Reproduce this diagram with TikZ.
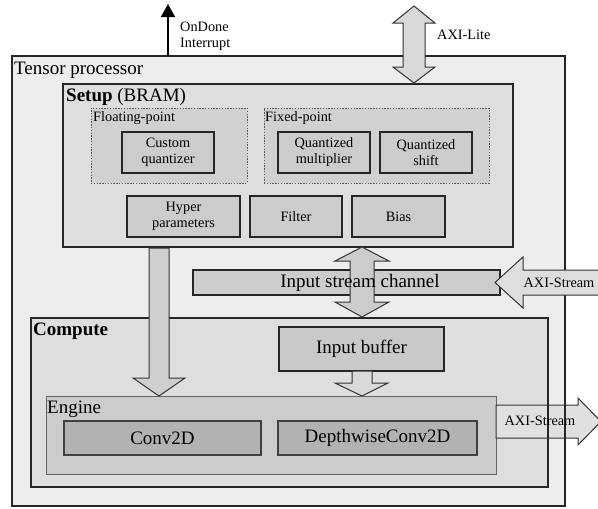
\documentclass[tikz,border=0pt]{standalone}
\usepackage{fontspec}
\setmainfont{Liberation Serif}
\usetikzlibrary{arrows.meta}
\begin{document}
\begin{tikzpicture}[x=1pt,y=-1pt,
  big/.style={font=\fontsize{19}{22}\selectfont},
  small/.style={font=\fontsize{14.3}{16}\selectfont},
  area/.style={draw=black!85,inner sep=0pt,outer sep=0pt,anchor=north west},
  unit/.style={area,draw=black!85,line width=1.4pt,fill=black!20,align=center,small},
  group/.style={area,draw=black!65,line width=0.9pt,dash pattern=on 1.4pt off 1.4pt,fill=black!18},
  blockarrow/.style={draw=black!80,line width=1pt},
  lbl/.style={inner sep=0pt,anchor=west}]
\useasboundingbox (0,0) rectangle (598,509);

% outer block
\node[area,line width=1.2pt,fill=black!7,minimum width=553pt,minimum height=450pt] (tp) at (12,56) {};
\node[lbl,big] (tpl) at (14,70) {Tensor processor};

% setup memory
\node[area,line width=2pt,fill=black!13,minimum width=450pt,minimum height=163pt] (setup) at (63,84) {};
\node[lbl,big] (setupl) at (66,97) {\textbf{Setup} (BRAM)};
\node[group,minimum width=156pt,minimum height=75pt] (float) at (91,108) {};
\node[lbl,small] (floatl) at (93,118) {Floating-point};
\node[group,minimum width=225pt,minimum height=75pt] (fixed) at (264,108) {};
\node[lbl,small] (fixedl) at (265,118) {Fixed-point};
\node[unit,minimum width=92pt,minimum height=41pt] (cq) at (122,132) {Custom\\quantizer};
\node[unit,minimum width=92pt,minimum height=41pt] (qm) at (278,132) {Quantized\\multiplier};
\node[unit,minimum width=92pt,minimum height=41pt] (qs) at (380,132) {Quantized\\shift};
\node[unit,minimum width=113pt,minimum height=41pt] (hp) at (127,196) {Hyper\\parameters};
\node[unit,minimum width=92pt,minimum height=41pt] (flt) at (250,196) {Filter};
\node[unit,minimum width=93pt,minimum height=41pt] (bias) at (352,196) {Bias};

% compute part
\node[area,line width=2pt,fill=black!13,minimum width=517pt,minimum height=169pt] (comp) at (31,318) {};
\node[lbl,big] (compl) at (33,331) {\textbf{Compute}};
\node[area,line width=1.3pt,fill=black!21,minimum width=165pt,minimum height=44pt,big] (ib) at (279,327) {};
\node[big] (ibl) at (ib.center) {Input buffer};
\node[area,draw=black!60,line width=1pt,fill=black!20,minimum width=450pt,minimum height=78pt] (eng) at (46,396) {};
\node[lbl,big] (engl) at (47,409) {Engine};
\node[area,draw=black!75,line width=1.3pt,fill=black!30,minimum width=197pt,minimum height=34pt] (c2d) at (64,421) {};
\node[big] (c2dl) at (c2d.center) {Conv2D};
\node[area,draw=black!75,line width=1.3pt,fill=black!30,minimum width=199pt,minimum height=34pt] (dw) at (278,421) {};
\node[big] (dwl) at (dw.center) {DepthwiseConv2D};

% input stream channel
\node[area,line width=1.3pt,fill=black!20,minimum width=307pt,minimum height=25pt] (band) at (193,270) {};
\draw[blockarrow,fill=black!20] (362,247) -- (389,261) -- (374,261) -- (374,302) -- (389,302)
  -- (362,317) -- (335,302) -- (350,302) -- (350,261) -- (335,261) -- cycle;
\node[big] (bandl) at (360,283) {Input stream channel};
\draw[blockarrow,fill=black!13] (495,282.5) -- (523,257) -- (523,270) -- (602,270) -- (602,295)
  -- (523,295) -- (523,308) -- cycle;
\node[small] (axisin) at (559,283) {AXI-Stream};

% setup to engine
\draw[blockarrow,fill=black!19] (149,248) -- (169,248) -- (169,378) -- (185,378) -- (159,396)
  -- (133,378) -- (149,378) -- cycle;
% input buffer to engine
\draw[blockarrow,fill=black!15] (352,371) -- (372,371) -- (372,383) -- (388,383) -- (362,396)
  -- (335,383) -- (352,383) -- cycle;

% output stream
\draw[blockarrow,fill=black!12] (496,405) -- (578,405) -- (578,398) -- (601,421.5) -- (578,445)
  -- (578,438) -- (496,438) -- cycle;
\begin{scope}
  \clip (500,396) rectangle (576,448);
  \draw[black!85,line width=2pt] (comp.north east) -- (comp.south east);
  \draw[black!85,line width=1.2pt] (tp.north east) -- (tp.south east);
\end{scope}
\node[small] (axisout) at (540,421) {AXI-Stream};

% AXI-Lite
\draw[blockarrow,fill=black!15] (414,6) -- (435,23) -- (425,23) -- (425,67) -- (435,67) -- (414,83)
  -- (393,67) -- (403,67) -- (403,23) -- (393,23) -- cycle;
\node[lbl,small] (axil) at (437,35) {AXI-Lite};

% interrupt
\coordinate (irq) at (168,4);
\draw[line width=1.6pt,-{Triangle[width=14pt,length=13pt]}] (tp.north west -| irq) -- (irq);
\node[lbl,small,align=left] (irql) at (180,36) {OnDone\\Interrupt};
\end{tikzpicture}
\end{document}
